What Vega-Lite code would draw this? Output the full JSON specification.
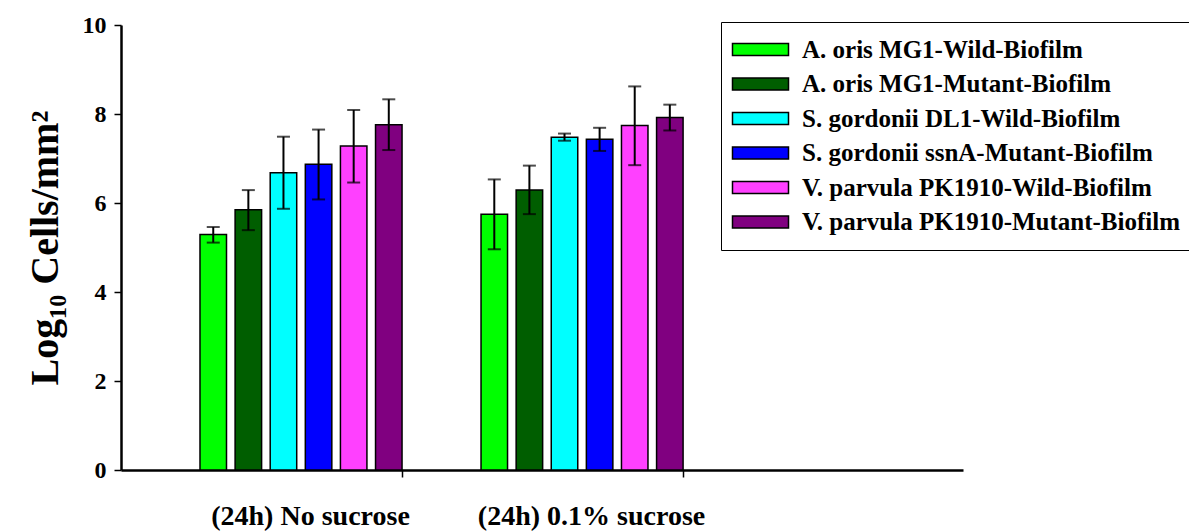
{
  "$schema": "https://vega.github.io/schema/vega-lite/v6.json",
  "width": 842,
  "height": 445,
  "autosize": {"type": "none"},
  "padding": {"left": 121, "top": 25, "right": 226, "bottom": 61},
  "background": "white",
  "config": {
    "view": {"stroke": null},
    "font": "Liberation Serif"
  },
  "data": {
    "values": [
      {"cond": "(24h) No sucrose", "strain": "A. oris MG1-Wild-Biofilm", "mean": 5.29, "lo": 5.11, "hi": 5.46},
      {"cond": "(24h) No sucrose", "strain": "A. oris MG1-Mutant-Biofilm", "mean": 5.85, "lo": 5.39, "hi": 6.29},
      {"cond": "(24h) No sucrose", "strain": "S. gordonii DL1-Wild-Biofilm", "mean": 6.68, "lo": 5.87, "hi": 7.49},
      {"cond": "(24h) No sucrose", "strain": "S. gordonii ssnA-Mutant-Biofilm", "mean": 6.87, "lo": 6.08, "hi": 7.65},
      {"cond": "(24h) No sucrose", "strain": "V. parvula PK1910-Wild-Biofilm", "mean": 7.28, "lo": 6.46, "hi": 8.09},
      {"cond": "(24h) No sucrose", "strain": "V. parvula PK1910-Mutant-Biofilm", "mean": 7.76, "lo": 7.19, "hi": 8.33},
      {"cond": "(24h) 0.1% sucrose", "strain": "A. oris MG1-Wild-Biofilm", "mean": 5.75, "lo": 4.96, "hi": 6.53},
      {"cond": "(24h) 0.1% sucrose", "strain": "A. oris MG1-Mutant-Biofilm", "mean": 6.29, "lo": 5.75, "hi": 6.84},
      {"cond": "(24h) 0.1% sucrose", "strain": "S. gordonii DL1-Wild-Biofilm", "mean": 7.48, "lo": 7.40, "hi": 7.56},
      {"cond": "(24h) 0.1% sucrose", "strain": "S. gordonii ssnA-Mutant-Biofilm", "mean": 7.43, "lo": 7.17, "hi": 7.69},
      {"cond": "(24h) 0.1% sucrose", "strain": "V. parvula PK1910-Wild-Biofilm", "mean": 7.74, "lo": 6.85, "hi": 8.62},
      {"cond": "(24h) 0.1% sucrose", "strain": "V. parvula PK1910-Mutant-Biofilm", "mean": 7.92, "lo": 7.63, "hi": 8.21}
    ]
  },
  "encoding": {
    "x": {
      "field": "cond", "type": "nominal", "sort": null, "title": null,
      "scale": {"domain": ["(24h) No sucrose", "(24h) 0.1% sucrose"], "paddingInner": 0, "paddingOuter": 0.498, "align": 0},
      "axis": {
        "labelAngle": 0, "labelFont": "Liberation Serif", "labelFontWeight": "bold", "labelFontSize": 28,
        "labelColor": "black", "labelPadding": 25, "labelLimit": 0,
        "tickOffset": 140.5, "labelOffset": -92,
        "domainColor": "black", "domainWidth": 2.5, "tickColor": "black", "tickWidth": 1.5, "tickSize": 7
      }
    },
    "xOffset": {
      "field": "strain", "type": "nominal",
      "scale": {
        "domain": ["_gap1", "_gap2", "A. oris MG1-Wild-Biofilm", "A. oris MG1-Mutant-Biofilm", "S. gordonii DL1-Wild-Biofilm", "S. gordonii ssnA-Mutant-Biofilm", "V. parvula PK1910-Wild-Biofilm", "V. parvula PK1910-Mutant-Biofilm"],
        "paddingInner": 0.245, "paddingOuter": 0.125, "align": 1
      }
    }
  },
  "layer": [
    {
      "mark": {"type": "bar", "stroke": "black", "strokeWidth": 1.5},
      "encoding": {
        "y": {
          "field": "mean", "type": "quantitative",
          "scale": {"domain": [0, 10], "nice": false},
          "title": "Log₁₀ Cells/mm²",
          "axis": {
            "values": [0, 2, 4, 6, 8, 10], "grid": false,
            "labelFont": "Liberation Serif", "labelFontWeight": "bold", "labelFontSize": 24, "labelColor": "black",
            "labelPadding": 8,
            "domainColor": "black", "domainWidth": 2.5, "tickColor": "black", "tickWidth": 1.5, "tickSize": 7,
            "titleFont": "Liberation Serif", "titleFontWeight": "bold", "titleFontSize": 40, "titleColor": "black",
            "titlePadding": 17
          }
        },
        "fill": {
          "field": "strain", "type": "nominal", "sort": null,
          "scale": {
            "domain": ["A. oris MG1-Wild-Biofilm", "A. oris MG1-Mutant-Biofilm", "S. gordonii DL1-Wild-Biofilm", "S. gordonii ssnA-Mutant-Biofilm", "V. parvula PK1910-Wild-Biofilm", "V. parvula PK1910-Mutant-Biofilm"],
            "range": ["#00ff00", "#005e00", "#00ffff", "#0000ff", "#ff40ff", "#800080"]
          },
          "legend": {
            "title": null, "orient": "none", "legendX": 600, "legendY": -3,
            "strokeColor": "black", "padding": 15,
            "symbolType": "M-4.667,-1H4.667V1H-4.667Z", "symbolSize": 144,
            "symbolStrokeColor": "black", "symbolStrokeWidth": 1.5, "symbolOffset": 12,
            "labelFont": "Liberation Serif", "labelFontWeight": "bold", "labelFontSize": 25, "labelColor": "black",
            "labelOffset": 29, "labelLimit": 600, "rowPadding": 8.5
          }
        }
      }
    },
    {
      "mark": {"type": "rule", "color": "black", "strokeWidth": 2},
      "encoding": {
        "y": {"field": "lo", "type": "quantitative"},
        "y2": {"field": "hi"}
      }
    },
    {
      "mark": {"type": "tick", "color": "black", "thickness": 2, "size": 13},
      "encoding": {"y": {"field": "lo", "type": "quantitative"}}
    },
    {
      "mark": {"type": "tick", "color": "black", "thickness": 2, "size": 13},
      "encoding": {"y": {"field": "hi", "type": "quantitative"}}
    }
  ]
}
